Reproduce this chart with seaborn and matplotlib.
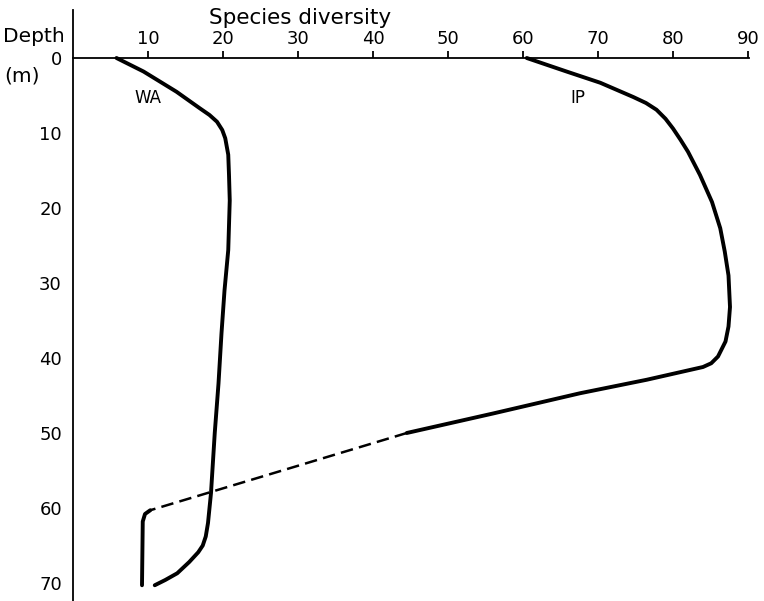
import matplotlib
matplotlib.use("Agg")
import matplotlib.pyplot as plt
import seaborn as sns
import pandas as pd

# Data
wa_div = [5.8, 9.4, 13.8, 16.9, 18.2, 19.2, 19.9, 20.3, 20.7, 20.8, 20.9, 20.7, 20.2,
          19.8, 19.4, 18.9, 18.4, 18.0, 17.7, 17.3, 16.7, 15.5, 13.9, 12.3, 10.9]
wa_depth = [0, 1.8, 4.5, 6.7, 7.6, 8.5, 9.6, 10.7, 12.9, 15.6, 19.0, 25.6, 31.0,
            36.7, 43.4, 50.0, 58.0, 62.0, 63.8, 65.0, 65.9, 67.2, 68.7, 69.6, 70.3]

ip_div = [60.5, 65.8, 70.3, 74.7, 76.4, 77.8, 79.0, 80.0, 81.0, 82.0, 83.6, 85.2, 86.3, 86.9,
          87.4, 87.6, 87.4, 87.0, 86.0, 85.1, 84.0, 76.5, 67.6, 56.0, 44.5]
ip_depth = [0, 1.8, 3.3, 5.2, 6.0, 6.9, 8.1, 9.4, 10.9, 12.5, 15.6, 19.2, 22.7, 25.8,
            29.0, 33.2, 35.8, 37.8, 39.8, 40.7, 41.2, 42.9, 44.7, 47.4, 50.0]

gap_div = [44.5, 10.3]
gap_depth = [50.0, 60.3]

tail_div = [10.3, 9.6, 9.3, 9.2]
tail_depth = [60.3, 60.8, 61.8, 70.3]

x_ticks = [10, 20, 30, 40, 50, 60, 70, 80, 90]
y_ticks = [0, 10, 20, 30, 40, 50, 60, 70]

sns.set_style("white")
plt.rcParams['font.family'] = ['DejaVu Sans']
plt.rcParams['text.color'] = 'black'

fig = plt.figure(figsize=(7.64, 6.01), dpi=100)
ax = fig.add_axes([73 / 764, 0.0, 676.5 / 764, 591 / 601])

lw = 2.8
line_kw = dict(sort=False, estimator=None, color="black", ax=ax)
sns.lineplot(x=wa_div, y=wa_depth, lw=lw, solid_joinstyle="round", **line_kw)
sns.lineplot(x=ip_div, y=ip_depth, lw=lw, solid_joinstyle="round", **line_kw)
sns.lineplot(x=gap_div, y=gap_depth, lw=1.8, linestyle=(0, (5, 2.5)), **line_kw)
sns.lineplot(x=tail_div, y=tail_depth, lw=lw, solid_joinstyle="round", **line_kw)

ax.set_xlim(0, 90.2)
ax.set_ylim(72.4, -6.4)

for s in ["right", "bottom"]:
    ax.spines[s].set_visible(False)
ax.spines["top"].set_position(("data", 0))
for s in ["top", "left"]:
    ax.spines[s].set_linewidth(1.3)
    ax.spines[s].set_color("black")

ax.xaxis.tick_top()
ax.set_xticks(x_ticks)
ax.set_xticklabels([str(v) for v in x_ticks])
ax.set_yticks(y_ticks)
ax.set_yticklabels([str(v) for v in y_ticks])
ax.tick_params(axis="x", direction="out", length=5, width=1.3, pad=2, labelsize=13, colors="black")
ax.tick_params(axis="y", direction="out", length=6, width=1.3, pad=2, labelsize=13, colors="black")
ax.set_xlabel("")
ax.set_ylabel("")

ax.text(10, 5.3, "WA", ha="center", va="center", fontsize=12)
ax.text(67.3, 5.3, "IP", ha="center", va="center", fontsize=12)

fig.text(300 / 764, 1 - 18 / 601, "Species diversity", ha="center", va="center", fontsize=15.5)
fig.text(3 / 764, 1 - 37 / 601, "Depth", ha="left", va="center", fontsize=14.5)
fig.text(4 / 764, 1 - 76 / 601, "(m)", ha="left", va="center", fontsize=14.5)

fig.savefig("out.png", dpi=100)
